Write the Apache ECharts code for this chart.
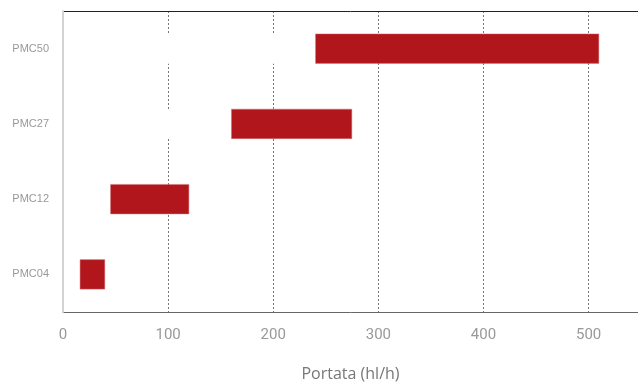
<!DOCTYPE html>
<html>
<head>
<meta charset="utf-8">
<script src="https://cdn.jsdelivr.net/npm/echarts@6/dist/echarts.min.js"></script>
<style>html,body{margin:0;padding:0;background:#fff;overflow:hidden;}#c{width:638px;height:383px;}</style>
</head>
<body>
<div id="c"></div>
<script>
const categories = ['PMC04', 'PMC12', 'PMC27', 'PMC50'];
const rangeStart = [16, 45, 160, 240];
const rangeEnd = [40, 120, 275, 510];
const xTicks = [0, 100, 200, 300, 400, 500];
const axisTitle = 'Portata (hl/h)';

const spans = rangeEnd.map((e, i) => e - rangeStart[i]);

const chart = echarts.init(document.getElementById('c'), null, {renderer: 'canvas', width: 638, height: 383});
chart.setOption({
  animation: false,
  grid: {left: 63, right: 0, top: 11, bottom: 71, containLabel: false, outerBoundsMode: 'none'},
  xAxis: [{
    type: 'value', min: 0, max: 547, interval: 100, position: 'bottom',
    name: axisTitle, nameLocation: 'middle', nameGap: 54,
    nameTextStyle: {fontFamily: 'Open Sans', fontSize: 16, color: '#777'},
    axisLine: {show: true, lineStyle: {color: '#666', width: 1}},
    axisTick: {show: false},
    axisLabel: {fontFamily: 'Roboto', fontSize: 15, color: '#999', margin: 16, showMaxLabel: false,
      formatter: v => xTicks.indexOf(v) >= 0 ? String(v) : ''},
    splitLine: {show: true, lineStyle: {type: [2, 2], color: '#777', width: 1}}
  }, {
    type: 'value', min: 0, max: 547, position: 'top',
    axisLine: {show: true, onZero: false, lineStyle: {color: '#222', width: 1}},
    axisTick: {show: false}, axisLabel: {show: false}, splitLine: {show: false}
  }],
  yAxis: {
    type: 'category', data: categories, z: 5,
    axisLine: {show: true, lineStyle: {color: '#d4d4d4', width: 2}},
    axisTick: {show: false},
    axisLabel: {fontFamily: 'Liberation Sans', fontSize: 11, color: '#999', margin: 14},
    splitLine: {show: false}
  },
  series: [{
    type: 'bar', stack: 'r', data: rangeStart, barWidth: 30,
    itemStyle: {color: '#fff'}, silent: true
  }, {
    type: 'bar', stack: 'r', data: spans, barWidth: 30,
    itemStyle: {color: '#B0161B', borderColor: '#d77478', borderWidth: 0.5}
  }]
});
</script>
</body>
</html>
